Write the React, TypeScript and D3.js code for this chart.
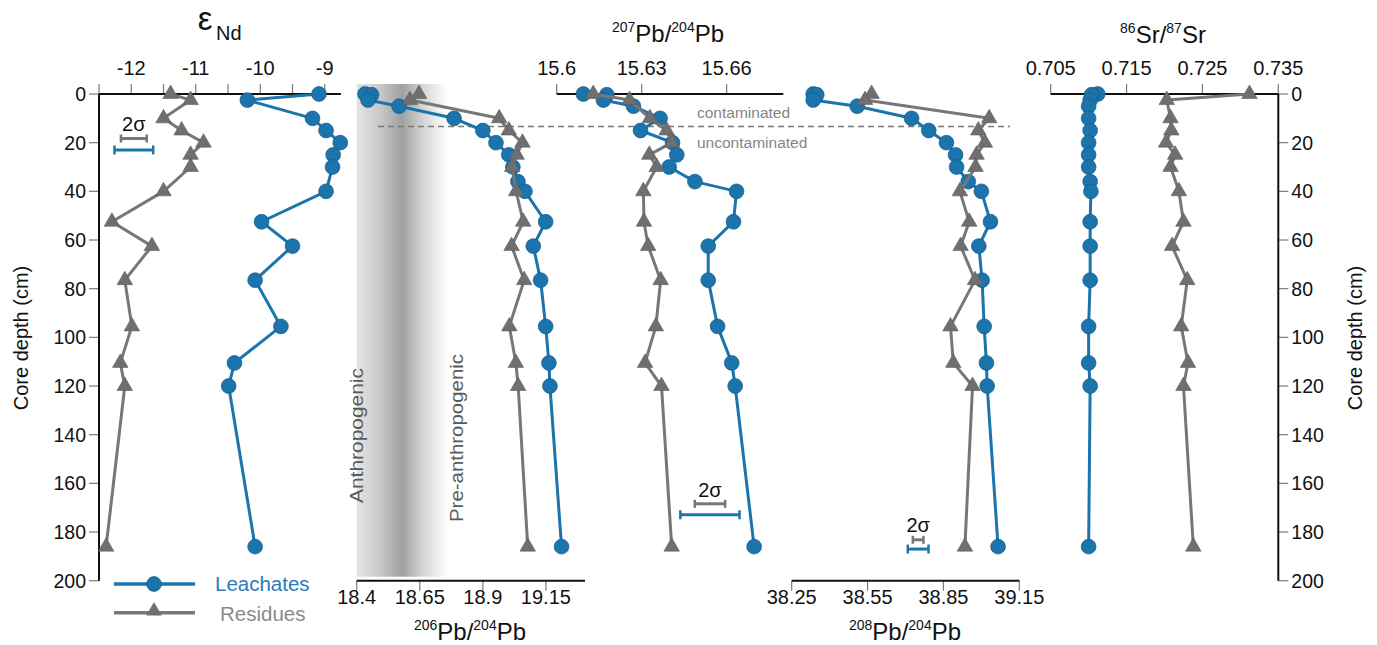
import React from "react";
import * as d3 from "d3";

// ---------------- data ----------------
const depthsLeach = [0, 0.3, 2.5, 5, 10, 15, 20, 25, 30, 36, 40, 52.5, 62.5, 76.5, 95.5, 110.5, 120, 186];
const depthsResid = [0, 2.5, 10, 15, 20, 25, 30, 40, 52.5, 62.5, 76.5, 95.5, 110.5, 120, 186];
const depthsNdLeach = [0, 2.5, 10, 15, 20, 25, 30, 40, 52.5, 62.5, 76.5, 95.5, 110.5, 120, 186];

const ndLeach = [-9.09, -10.2, -9.19, -8.98, -8.76, -8.87, -8.88, -8.98, -9.98, -9.5, -10.08, -9.68, -10.4, -10.49, -10.08];
const ndResid = [-11.39, -11.08, -11.5, -11.22, -10.88, -11.08, -11.08, -11.5, -12.3, -11.68, -12.1, -11.99, -12.17, -12.1, -12.39];

const pb206Leach = [18.433, 18.459, 18.445, 18.568, 18.786, 18.9, 18.952, 19.003, 19.019, 19.039, 19.067, 19.149, 19.1, 19.129, 19.149, 19.162, 19.166, 19.212];
const pb206Resid = [18.647, 18.611, 18.965, 19.003, 19.057, 19.034, 19.016, 19.032, 19.06, 19.014, 19.064, 19.005, 19.031, 19.04, 19.078];

const pb207Leach = [15.6094, 15.6177, 15.6165, 15.6271, 15.6365, 15.6296, 15.6409, 15.6424, 15.6397, 15.6488, 15.6635, 15.6624, 15.6535, 15.6535, 15.6568, 15.6618, 15.663, 15.6697];
const pb207Resid = [15.6129, 15.6257, 15.6329, 15.6388, 15.6406, 15.6327, 15.6353, 15.6306, 15.6308, 15.6323, 15.6367, 15.635, 15.6312, 15.637, 15.6406];

const pb208Leach = [38.335, 38.349, 38.335, 38.509, 38.724, 38.792, 38.862, 38.898, 38.902, 38.948, 39.0, 39.036, 38.99, 39.003, 39.011, 39.02, 39.023, 39.066];
const pb208Resid = [38.566, 38.54, 39.031, 38.988, 39.014, 38.981, 38.977, 38.915, 38.952, 38.918, 38.975, 38.878, 38.889, 38.965, 38.935];

const srLeach = [0.7112, 0.7104, 0.7102, 0.71, 0.71, 0.7102, 0.71, 0.71, 0.71, 0.7102, 0.7103, 0.7102, 0.7102, 0.7102, 0.71, 0.71, 0.7102, 0.71];
const srResid = [0.7312, 0.7203, 0.7208, 0.7209, 0.7202, 0.7214, 0.7208, 0.7219, 0.7225, 0.721, 0.723, 0.7222, 0.7231, 0.7225, 0.7238];

const depthTicks = [0, 20, 40, 60, 80, 100, 120, 140, 160, 180, 200];
const ndTicks = [-12.5, -12, -11.5, -11, -10.5, -10, -9.5, -9];
const ndLabels = [-12, -11, -10, -9];
const pb206Ticks = [18.4, 18.65, 18.9, 19.15];
const pb207Ticks = [15.6, 15.63, 15.66];
const pb208Ticks = [38.25, 38.55, 38.85, 39.15];
const srTicks = [0.705, 0.715, 0.725, 0.735];

// 2-sigma bars: [center, residue width, leachate width, residue depth, leachate depth]
const sigmaNd = [-11.96, 0.4, 0.6, 18.3, 23];
const sigma207 = [15.6541, 0.0107, 0.0209, 168.4, 172.9];
const sigma208 = [38.75, 0.042, 0.082, 183.2, 187];

const contaminationDepth = 13.4;
const anthropogenicRange = [18.4, 18.58, 18.76];

// ---------------- style ----------------
const BLUE = "#1b74ab";
const BLUE_DARK = "#145b88";
const GRAY = "#6f6f6f";
const GRAY_LINE = "#777777";
const FONT = "'Liberation Sans', Arial, Helvetica, sans-serif";

const y = d3.scaleLinear().domain([0, 200]).range([94, 580.7]);
const xNd = d3.scaleLinear().domain([-12.5, -8.75]).range([99, 340.9]);
const x206 = d3.scaleLinear().domain([18.4, 19.305]).range([356.7, 585]);
const x207 = d3.scaleLinear().domain([15.6, 15.68]).range([556.7, 783.3]);
const x208 = d3.scaleLinear().domain([38.25, 39.15]).range([791.7, 1019.3]);
const xSr = d3.scaleLinear().domain([0.705, 0.735]).range([1050.7, 1278.3]);

const triPath = d3.symbol().type(d3.symbolTriangle).size(105)() as string;

function Series({ xs, depths, vals, kind }: any) {
  const pts = vals.map((v: number, i: number) => [xs(v), y(depths[i])] as [number, number]);
  const line = d3.line()(pts) as string;
  if (kind === "leach") {
    return (
      <g>
        <path d={line} fill="none" stroke={BLUE} strokeWidth={3} strokeLinejoin="round" />
        {pts.map((p: any, i: number) => (
          <circle key={i} cx={p[0]} cy={p[1]} r={7.4} fill={BLUE} stroke={BLUE_DARK} strokeWidth={0.7} />
        ))}
      </g>
    );
  }
  return (
    <g>
      <path d={line} fill="none" stroke={GRAY_LINE} strokeWidth={3} strokeLinejoin="round" />
      {pts.map((p: any, i: number) => (
        <path key={i} d={triPath} transform={`translate(${p[0]},${p[1]})`} fill={GRAY} stroke="#5e5e5e" strokeWidth={0.6} />
      ))}
    </g>
  );
}

function HAxis({ xs, yPos, ticks, labels, top, fmt }: any) {
  const [r0, r1] = xs.range();
  const dir = top ? -1 : 1;
  const lab = labels || ticks;
  return (
    <g>
      {ticks.map((t: number, i: number) => (
        <line key={i} x1={xs(t)} x2={xs(t)} y1={yPos} y2={yPos + dir * 10} stroke="#7a7a7a" strokeWidth={1.2} />
      ))}
      <line x1={r0} x2={r1} y1={yPos} y2={yPos} stroke="#111" strokeWidth={2} />
      {lab.map((t: number, i: number) => (
        <text key={i} x={xs(t)} y={top ? yPos - 19 : yPos + 23} textAnchor="middle" fontSize={20} fill="#111" fontFamily={FONT}>
          {fmt ? fmt(t) : String(t)}
        </text>
      ))}
    </g>
  );
}

function VAxis({ xPos, right }: any) {
  const dir = right ? 1 : -1;
  return (
    <g>
      {depthTicks.map((t, i) => (
        <line key={i} x1={xPos} x2={xPos + dir * 10} y1={y(t)} y2={y(t)} stroke="#7a7a7a" strokeWidth={1.2} />
      ))}
      <line x1={xPos} x2={xPos} y1={y(0)} y2={y(200)} stroke="#111" strokeWidth={2} />
      {depthTicks.map((t, i) => (
        <text key={i} x={right ? xPos + 13 : xPos - 13} y={y(t) + 7} textAnchor={right ? "start" : "end"} fontSize={19.5} fill="#111" fontFamily={FONT}>
          {t}
        </text>
      ))}
    </g>
  );
}

function Sigma({ xs, s, labelDy }: any) {
  const [c, wr, wl, dr, dl] = s;
  const bar = (w: number, d: number, color: string, cap: number) => {
    const x0 = xs(c - w / 2);
    const x1 = xs(c + w / 2);
    const yy = y(d);
    return (
      <g>
        <line x1={x0} x2={x1} y1={yy} y2={yy} stroke={color} strokeWidth={3} />
        <line x1={x0} x2={x0} y1={yy - cap} y2={yy + cap} stroke={color} strokeWidth={2.5} />
        <line x1={x1} x2={x1} y1={yy - cap} y2={yy + cap} stroke={color} strokeWidth={2.5} />
      </g>
    );
  };
  return (
    <g>
      {bar(wl, dl, BLUE, 4.5)}
      {bar(wr, dr, GRAY_LINE, 4)}
      <text x={xs(c)} y={y(dr) - labelDy} textAnchor="middle" fontSize={20} fill="#111" fontFamily={FONT}>
        2σ
      </text>
    </g>
  );
}

function Title({ x, yPos, sup1, main1, sup2, main2 }: any) {
  return (
    <text x={x} y={yPos} textAnchor="middle" fontSize={24} fill="#111" fontFamily={FONT}>
      <tspan fontSize={14} dy={-10}>{sup1}</tspan>
      <tspan dy={10}>{main1}</tspan>
      <tspan fontSize={14} dy={-10}>{sup2}</tspan>
      <tspan dy={10}>{main2}</tspan>
    </text>
  );
}

export default function App() {
  const [a0, aMid, a1] = anthropogenicRange;
  const bandX0 = x206(a0);
  const bandX1 = x206(a1);
  const midPct = ((x206(aMid) - bandX0) / (bandX1 - bandX0)) * 100;
  const yc = y(contaminationDepth);
  return (
    <svg width={1377} height={645} style={{ position: "absolute", left: 0, top: 0 }} fontFamily={FONT}>
      <defs>
        <linearGradient id="band" x1="0" x2="1" y1="0" y2="0">
          <stop offset="0%" stopColor="#e4e4e4" />
          <stop offset={`${midPct * 0.55}%`} stopColor="#c6c6c6" />
          <stop offset={`${midPct}%`} stopColor="#a0a0a0" />
          <stop offset={`${midPct + (100 - midPct) * 0.45}%`} stopColor="#d4d4d4" />
          <stop offset="100%" stopColor="#ffffff" />
        </linearGradient>
      </defs>
      <rect x={0} y={0} width={1377} height={645} fill="#fff" />

      {/* anthropogenic band */}
      <rect x={bandX0} y={84} width={bandX1 - bandX0} height={y(200) - 4 - 84} fill="url(#band)" />
      <text transform={`translate(363,503) rotate(-90)`} fontSize={18} fill="#5a5a5a" textLength={135} lengthAdjust="spacingAndGlyphs">
        Anthropogenic
      </text>
      <text transform={`translate(463,522) rotate(-90)`} fontSize={18} fill="#5a5a5a" textLength={168} lengthAdjust="spacingAndGlyphs">
        Pre-anthropogenic
      </text>

      {/* contamination line */}
      <line x1={378} x2={1010} y1={yc} y2={yc} stroke="#7a7a7a" strokeWidth={1.5} strokeDasharray="6,4" />
      <text x={697} y={118} fontSize={15.5} fill="#858585">contaminated</text>
      <text x={697} y={148} fontSize={15.5} fill="#858585">uncontaminated</text>

      {/* axes */}
      <VAxis xPos={99} />
      <VAxis xPos={1278.3} right />
      <HAxis xs={xNd} yPos={94} ticks={ndTicks} labels={ndLabels} top />
      <HAxis xs={x206} yPos={580.7} ticks={pb206Ticks} />
      <HAxis xs={x207} yPos={94} ticks={pb207Ticks} top />
      <HAxis xs={x208} yPos={580.7} ticks={pb208Ticks} />
      <HAxis xs={xSr} yPos={94} ticks={srTicks} top />

      {/* titles */}
      <text x={205} y={30} fontSize={33} fill="#111" textAnchor="middle">ε</text>
      <text x={216} y={40} fontSize={20} fill="#111">Nd</text>
      <Title x={668} yPos={42} sup1="207" main1="Pb/" sup2="204" main2="Pb" />
      <Title x={470} yPos={640} sup1="206" main1="Pb/" sup2="204" main2="Pb" />
      <Title x={905} yPos={640} sup1="208" main1="Pb/" sup2="204" main2="Pb" />
      <Title x={1163} yPos={43} sup1="86" main1="Sr/" sup2="87" main2="Sr" />
      <text transform="translate(28,338) rotate(-90)" textAnchor="middle" fontSize={20} fill="#111">Core depth (cm)</text>
      <text transform="translate(1362,338) rotate(-90)" textAnchor="middle" fontSize={20} fill="#111">Core depth (cm)</text>

      {/* sigma bars */}
      <Sigma xs={xNd} s={sigmaNd} labelDy={8} />
      <Sigma xs={x207} s={sigma207} labelDy={7} />
      <Sigma xs={x208} s={sigma208} labelDy={8} />

      {/* series */}
      <Series xs={xNd} depths={depthsNdLeach} vals={ndLeach} kind="leach" />
      <Series xs={xNd} depths={depthsResid} vals={ndResid} kind="resid" />
      <Series xs={x206} depths={depthsLeach} vals={pb206Leach} kind="leach" />
      <Series xs={x206} depths={depthsResid} vals={pb206Resid} kind="resid" />
      <Series xs={x207} depths={depthsLeach} vals={pb207Leach} kind="leach" />
      <Series xs={x207} depths={depthsResid} vals={pb207Resid} kind="resid" />
      <Series xs={x208} depths={depthsLeach} vals={pb208Leach} kind="leach" />
      <Series xs={x208} depths={depthsResid} vals={pb208Resid} kind="resid" />
      <Series xs={xSr} depths={depthsLeach} vals={srLeach} kind="leach" />
      <Series xs={xSr} depths={depthsResid} vals={srResid} kind="resid" />

      {/* legend */}
      <line x1={114} x2={195} y1={584} y2={584} stroke={BLUE} strokeWidth={3.5} />
      <circle cx={154} cy={584} r={7.4} fill={BLUE} stroke={BLUE_DARK} strokeWidth={0.7} />
      <text x={215} y={591} fontSize={20.5} fill="#2a7bb8">Leachates</text>
      <line x1={114} x2={195} y1={612.7} y2={612.7} stroke={GRAY_LINE} strokeWidth={3.5} />
      <path d={triPath} transform="translate(154,611)" fill={GRAY} />
      <text x={220} y={621} fontSize={20.5} fill="#8a8a8a">Residues</text>
    </svg>
  );
}
